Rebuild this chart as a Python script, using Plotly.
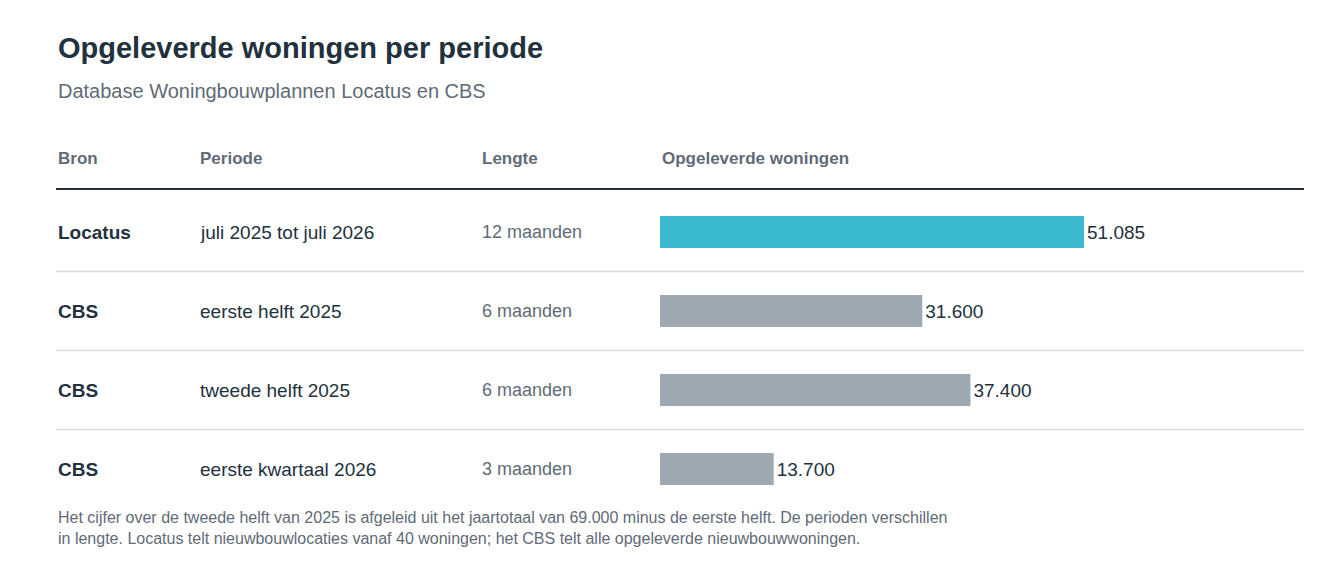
import plotly.graph_objects as go

bron = ["Locatus", "CBS", "CBS", "CBS"]
periode = ["juli 2025 tot juli 2026", "eerste helft 2025", "tweede helft 2025", "eerste kwartaal 2026"]
lengte = ["12 maanden", "6 maanden", "6 maanden", "3 maanden"]
woningen = [51085, 31600, 37400, 13700]
labels = ["51.085", "31.600", "37.400", "13.700"]
kleuren = ["#3bb9cf", "#9ea8b1", "#9ea8b1", "#9ea8b1"]

W, H = 1342, 564
dark = "#22313d"
grey = "#5f6b77"
font = "Liberation Sans, Arial, sans-serif"

rows = list(range(len(woningen)))
fig = go.Figure(go.Bar(
    x=woningen, y=rows, orientation="h", width=0.405,
    marker=dict(color=kleuren, line=dict(width=0)),
    text=labels, textposition="outside", cliponaxis=False,
    textfont=dict(family=font, size=19, color=dark),
    hoverinfo="skip",
))

def px(x):
    return x / W

for i in rows:
    fig.add_annotation(x=px(48), y=i, xref="paper", yref="y", text="<b>%s</b>" % bron[i],
                       xanchor="left", showarrow=False, font=dict(family=font, size=19, color=dark))
    fig.add_annotation(x=px(190), y=i, xref="paper", yref="y", text=periode[i],
                       xanchor="left", showarrow=False, font=dict(family=font, size=19, color=dark))
    fig.add_annotation(x=px(472), y=i, xref="paper", yref="y", text=lengte[i],
                       xanchor="left", showarrow=False, font=dict(family=font, size=18, color=grey))

hy = (150 - 224) / 79
for x, t in [(48, "Bron"), (190, "Periode"), (472, "Lengte"), (652, "Opgeleverde woningen")]:
    fig.add_annotation(x=px(x), y=hy, xref="paper", yref="y", text="<b>%s</b>" % t,
                       xanchor="left", showarrow=False, font=dict(family=font, size=17, color=grey))

fig.add_shape(type="line", xref="paper", yref="y", x0=px(48), x1=px(1296),
              y0=(181 - 224) / 79, y1=(181 - 224) / 79, line=dict(color=dark, width=2))
for s in [0.5, 1.5, 2.5]:
    fig.add_shape(type="line", xref="paper", yref="y", x0=px(48), x1=px(1296),
                  y0=s, y1=s, line=dict(color="#d9dde0", width=1.5))

fig.add_annotation(x=px(48), y=1 - 40 / H, xref="paper", yref="paper", yanchor="middle",
                   text="<b>Opgeleverde woningen per periode</b>", xanchor="left", showarrow=False,
                   font=dict(family=font, size=29, color=dark))
fig.add_annotation(x=px(48), y=1 - 83 / H, xref="paper", yref="paper", yanchor="middle",
                   text="Database Woningbouwplannen Locatus en CBS", xanchor="left", showarrow=False,
                   font=dict(family=font, size=20, color=grey))
fig.add_annotation(x=px(48), y=1 - 520 / H, xref="paper", yref="paper", yanchor="middle", align="left",
                   text="Het cijfer over de tweede helft van 2025 is afgeleid uit het jaartotaal van 69.000 minus de eerste helft. De perioden verschillen<br>in lengte. Locatus telt nieuwbouwlocaties vanaf 40 woningen; het CBS telt alle opgeleverde nieuwbouwwoningen.",
                   xanchor="left", showarrow=False, font=dict(family=font, size=16, color=grey))

xmax = (W - 652) / (424 / 51085)
fig.update_layout(
    width=W, height=H, margin=dict(l=0, r=0, t=0, b=0),
    paper_bgcolor="white", plot_bgcolor="white", showlegend=False,
    xaxis=dict(domain=[652 / W, 1], range=[0, xmax], visible=False),
    yaxis=dict(domain=[0, 1], range=[(H - 224) / 79, -224 / 79], visible=False),
)
fig.write_html("out.html")
